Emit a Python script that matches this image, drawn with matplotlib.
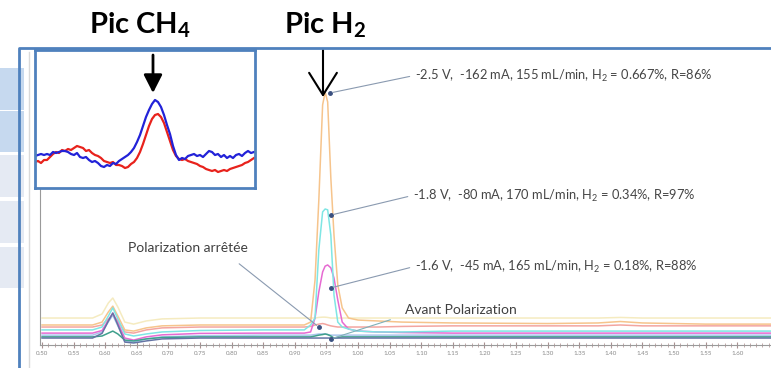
import numpy as np
import matplotlib
matplotlib.use("Agg")
import matplotlib.pyplot as plt
from matplotlib.patches import Rectangle
from matplotlib.lines import Line2D

plt.rcParams['font.family'] = ['Lato', 'DejaVu Sans']
plt.rcParams['mathtext.fontset'] = 'custom'
plt.rcParams['mathtext.rm'] = 'Lato'
plt.rcParams['mathtext.it'] = 'Lato:italic'
plt.rcParams['mathtext.bf'] = 'Lato:bold'

# chromatogramme principal (temps en min, signal en unites arbitraires)
temps = [0.50, 0.58, 0.595, 0.605, 0.612, 0.620, 0.631, 0.645, 0.665, 0.69,
         0.75, 0.85, 0.915, 0.925, 0.932, 0.938, 0.944, 0.948, 0.952, 0.957,
         0.962, 0.968, 0.975, 0.985, 1.00, 1.03, 1.07, 1.15, 1.30, 1.38,
         1.415, 1.45, 1.55, 1.66]

creme = [9.3, 9.3, 10.7, 14.5, 16.2, 13.1, 7.9, 7.2, 8.3, 9.0,
         9.3, 9.3, 9.3, 9.3, 9.3, 9.5, 9.6, 9.6, 9.5, 9.3,
         9.3, 9.3, 9.3, 9.3, 9.3, 9.3, 9.3, 9.3, 9.3, 9.3,
         9.5, 9.3, 9.3, 9.3]
saumon = [6.2, 6.2, 6.9, 9.0, 10.3, 8.3, 4.5, 4.1, 5.2, 5.9,
          6.2, 6.2, 6.2, 6.4, 6.9, 7.2, 7.4, 7.2, 6.9, 6.6,
          6.4, 6.2, 6.2, 6.2, 6.2, 6.2, 6.4, 6.6, 6.6, 6.6,
          6.9, 6.6, 6.6, 6.6]
orange = [6.9, 6.9, 7.9, 11.4, 13.4, 10.0, 5.2, 4.8, 5.9, 6.6,
          6.9, 6.9, 6.9, 7.9, 22.4, 50.0, 82.8, 87.2, 83.8, 57.6,
          37.9, 20.7, 12.8, 9.3, 8.6, 8.3, 7.9, 7.6, 7.4, 7.6,
          8.1, 7.6, 7.2, 7.2]
bleu_clair = [3.4, 3.4, 4.5, 8.0, 10.3, 6.6, 1.4, 1.0, 2.1, 2.8,
              3.2, 3.4, 3.4, 3.4, 3.6, 3.8, 3.8, 3.8, 3.6, 3.4,
              3.4, 3.4, 3.4, 3.4, 3.4, 3.4, 3.4, 3.4, 3.4, 3.4,
              3.4, 3.4, 3.4, 3.4]
magenta = [4.1, 4.1, 5.0, 8.6, 11.0, 7.6, 2.4, 1.7, 2.8, 3.5,
           4.0, 4.1, 4.1, 4.5, 9.3, 18.3, 25.2, 27.2, 27.6, 26.6,
           23.1, 15.5, 7.9, 5.5, 4.8, 4.5, 4.3, 4.1, 4.1, 4.1,
           4.1, 4.1, 4.1, 4.1]
cyan = [5.2, 5.2, 6.2, 10.0, 12.8, 9.0, 3.8, 3.1, 3.8, 4.5,
        5.0, 5.2, 5.2, 6.9, 9.3, 32.8, 45.9, 46.9, 46.6, 37.9,
        17.2, 7.9, 6.2, 5.5, 4.8, 4.5, 4.5, 4.8, 4.8, 4.8,
        4.8, 4.8, 4.8, 4.8]
vert = [2.8, 2.8, 3.1, 4.1, 4.8, 3.8, 1.7, 1.4, 2.1, 2.6,
        2.8, 2.8, 2.8, 2.8, 3.1, 3.4, 3.6, 3.8, 3.6, 3.1,
        2.4, 2.6, 2.8, 2.8, 2.8, 2.8, 2.8, 2.8, 2.8, 2.8,
        2.8, 2.8, 2.8, 2.8]
marine = [2.4, 2.4, 4.0, 8.3, 11.0, 6.9, 1.0, 0.7, 1.4, 2.1,
          2.4, 2.4, 2.4, 2.4, 2.4, 2.4, 2.4, 2.4, 2.4, 2.4,
          2.4, 2.4, 2.4, 2.4, 2.4, 2.4, 2.4, 2.4, 2.4, 2.4,
          2.4, 2.4, 2.4, 2.4]

series = [(creme, '#f5ebc0'), (saumon, '#f3a5a0'), (orange, '#f6c48c'),
          (bleu_clair, '#a9c6ec'), (magenta, '#e66ad2'), (cyan, '#7fe6e4'),
          (vert, '#3fa08c'), (marine, '#6474a4')]

tick_vals = [0.50, 0.55, 0.60, 0.65, 0.70, 0.75, 0.80, 0.85, 0.90, 0.95,
             1.00, 1.05, 1.10, 1.15, 1.20, 1.25, 1.30, 1.35, 1.40, 1.45,
             1.50, 1.55, 1.60]

# annotations : texte, position du texte, point vise
notes = [
    (r'-2.5 V,  -162 mA, 155 mL/min, H$_2$ = 0.667%, R=86%', (1.090, 92.8), (0.9557, 86.9)),
    (r'-1.8 V,  -80 mA, 170 mL/min, H$_2$ = 0.34%, R=97%', (1.087, 51.4), (0.957, 44.8)),
    (r'-1.6 V,  -45 mA, 165 mL/min, H$_2$ = 0.18%, R=88%', (1.090, 26.9), (0.957, 19.7)),
]

# zoom sur le pic CH4
inset_x = np.arange(0, 222, 3)
ch4_bleu = [32, 33, 34, 33, 34, 33, 36, 35, 36, 37,
            37, 36, 34, 33, 35, 31, 30, 31, 28, 26,
            27, 25, 22, 21, 23, 22, 25, 24, 27, 29,
            31, 33, 36, 40, 46, 53, 62, 71, 78, 84,
            88, 86, 81, 73, 63, 54, 42, 33, 28, 30,
            29, 32, 33, 34, 32, 33, 31, 34, 37, 36,
            33, 34, 31, 33, 30, 32, 30, 33, 34, 32,
            35, 37, 35, 36]
ch4_rouge = [26, 27, 25, 28, 28, 31, 34, 36, 35, 38,
             37, 39, 38, 40, 42, 41, 40, 37, 38, 35,
             33, 32, 30, 27, 26, 25, 26, 23, 23, 22,
             20, 21, 24, 26, 30, 36, 44, 53, 62, 69,
             73, 74, 71, 65, 56, 47, 38, 32, 29, 28,
             29, 27, 26, 25, 24, 22, 21, 19, 18, 17,
             18, 16, 17, 18, 17, 19, 20, 21, 22, 23,
             25, 26, 28, 30]

W, H = 771, 368
fig = plt.figure(figsize=(W / 100, H / 100), dpi=100)

def fx(px):
    return px / W

def fy(py):
    return 1 - py / H

# fond : cases a gauche, bord de fenetre, cadre bleu
for y0, y1, c in [(68, 110, '#c6d9ef'), (111, 152, '#c6d9ef'), (155, 197, '#e5eaf3'),
                  (201, 243, '#e5eaf3'), (247, 288, '#e5eaf3')]:
    fig.add_artist(Rectangle((0, fy(y1)), fx(24), (y1 - y0) / H, color=c, lw=0,
                             transform=fig.transFigure))
fig.add_artist(Line2D([fx(29), fx(29)], [fy(52), 0], color='#dadada', lw=1,
                      transform=fig.transFigure))
fig.add_artist(Line2D([fx(19), fx(19), 1.0], [0, fy(48), fy(48)], color='#4f81bd',
                      lw=2, transform=fig.transFigure))

ax = fig.add_axes([fx(40), fy(345), fx(771 - 40), (345 - 55) / H])
for vals, col in series:
    ax.plot(temps, vals, color=col, lw=1.1)
ax.set_xlim(0.4968, 1.6535)
ax.set_ylim(0, 100)
for s in ['top', 'right']:
    ax.spines[s].set_visible(False)
ax.spines['left'].set_color('#9a9a9a')
ax.spines['bottom'].set_color('#9a9a9a')
ax.set_yticks([])
ax.set_xticks(tick_vals)
ax.set_xticklabels(['%.2f' % v for v in tick_vals])
ax.set_xticks(np.arange(0.50, 1.655, 0.01), minor=True)
ax.tick_params(axis='x', which='major', direction='inout', length=4, color='#a89090',
               labelsize=4.5, labelcolor='#8a8a8a', pad=2)
ax.tick_params(axis='x', which='minor', direction='inout', length=3, color='#b89a9a')

for txt, pos, pt in notes:
    ax.annotate('', xy=pt, xytext=(pos[0] - 0.004, pos[1]),
                arrowprops=dict(arrowstyle='-', color='#8a9ab0', lw=0.8))
    ax.plot(*pt, 'o', ms=2.5, color='#3a5080')
    ax.text(pos[0], pos[1], txt, fontsize=9.3, color='#454545', ha='left', va='center')

ax.text(0.731, 33.4, 'Polarization arrêtée', fontsize=10, color='#404040',
        ha='center', va='center')
ax.annotate('', xy=(0.938, 6.2), xytext=(0.8085, 28.6),
            arrowprops=dict(arrowstyle='-', color='#8a9ab0', lw=0.8))
ax.plot(0.938, 6.2, 'o', ms=2.5, color='#3a5080')
ax.text(1.074, 12.1, 'Avant Polarization', fontsize=10, color='#404040',
        ha='left', va='center')
ax.annotate('', xy=(0.957, 2.1), xytext=(1.0554, 9.0),
            arrowprops=dict(arrowstyle='-', color='#7fb0b8', lw=0.8))
ax.plot(0.957, 2.1, 'o', ms=2.5, color='#3a5080')

# fleche H2
ax.annotate('', xy=(323, H - 97), xytext=(323, H - 50), xycoords='figure pixels',
            textcoords='figure pixels', annotation_clip=False,
            arrowprops=dict(arrowstyle='->, head_length=0.8, head_width=0.5',
                            color='black', lw=1.5, mutation_scale=20, shrinkA=0, shrinkB=0))

# encart CH4
ins = fig.add_axes([fx(35), fy(188), fx(220), 138 / H])
ins.plot(inset_x, ch4_rouge, color='#e8221c', lw=1.6)
ins.plot(inset_x, ch4_bleu, color='#2222d8', lw=1.6)
ins.set_xlim(0, 220)
ins.set_ylim(0, 138)
ins.set_xticks([])
ins.set_yticks([])
for s in ins.spines.values():
    s.set_color('#4f81bd')
    s.set_linewidth(2)
ins.annotate('', xy=(153, H - 93), xytext=(153, H - 55), xycoords='figure pixels',
             textcoords='figure pixels', annotation_clip=False,
             arrowprops=dict(arrowstyle='-|>, head_length=0.55, head_width=0.28',
                             color='black', lw=2, mutation_scale=20, shrinkA=0, shrinkB=0))

fig.text(fx(140), fy(33), r'Pic CH$_\mathbf{4}$', fontsize=21, fontweight='bold',
         ha='center', va='baseline')
fig.text(fx(325), fy(33), r'Pic H$_\mathbf{2}$', fontsize=21, fontweight='bold',
         ha='center', va='baseline')

fig.savefig('out.png', dpi=100)
